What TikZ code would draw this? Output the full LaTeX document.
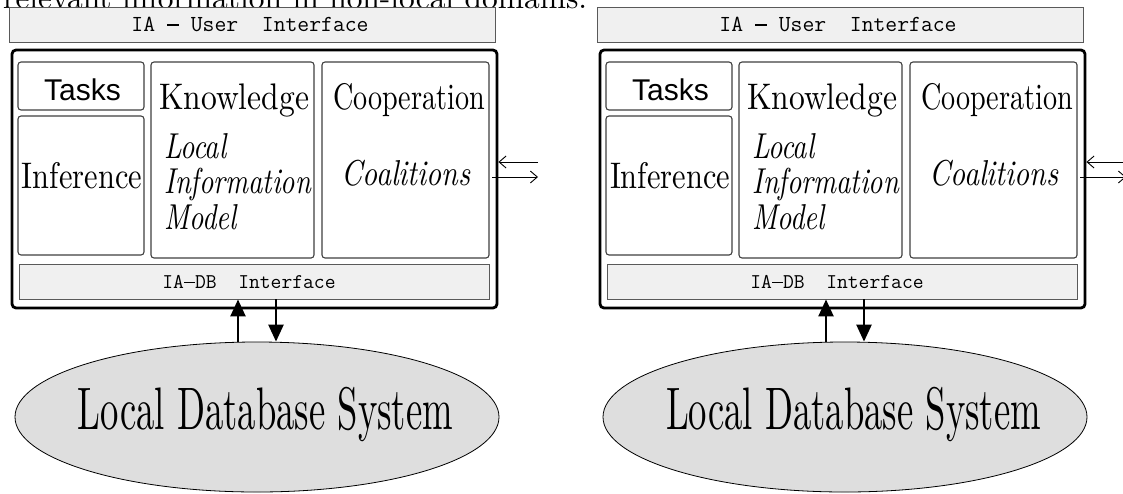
\documentclass[tikz,border=0pt]{standalone}
\usepackage{fontspec}
\usepackage{graphicx}
\newfontfamily\sansA{Liberation Sans}
\newfontfamily\lmten{lmroman10-regular}[Extension=.otf, ItalicFont=lmroman10-italic]
\usetikzlibrary{shapes.geometric,arrows.meta}
\newcommand\fitw[3]{\resizebox{#1}{\height}{\lmten\fontsize{#2}{#2}\selectfont #3}}
\newcommand\itc[2][0.78]{\scalebox{#1}[1]{\lmten\fontsize{36}{36}\selectfont\itshape #2}}
\newcommand\mdash{\makebox[0.525em][c]{\rule[0.24em]{0.5em}{0.05em}}}
\tikzset{
  bar/.style={draw=black!65, fill=black!6, line width=0.9pt, inner sep=0pt},
  cell/.style={draw=black!75, line width=1.1pt, rounded corners=3pt, inner sep=0pt},
  frame/.style={draw=black, line width=2.8pt, rounded corners=4pt, inner sep=0pt},
  dbell/.style={ellipse, draw=black, line width=0.8pt, fill=black!13, inner sep=0pt},
  lbl/.style={inner sep=0pt, anchor=base},
  ilbl/.style={inner sep=0pt, anchor=base west},
  bigarrow/.style={line width=2.5pt, -{Triangle[width=15pt,length=17pt]}},
  sidearrow/.style={line width=0.9pt, -{Straight Barb[length=7pt,width=12pt]}},
}
\newcommand\iablock{%
  \node[bar, minimum width=486pt, minimum height=35pt] (ui) at (252,24.5) {};
  \node[inner sep=0pt] (uit) at (250,24) {\fontsize{23}{23}\selectfont\ttfamily IA \mdash{} User\ \ Interface};
  \node[frame, minimum width=485pt, minimum height=258pt] (main) at (254.5,179) {};
  \node[cell, minimum width=126pt, minimum height=48pt] (tasks) at (81,86) {};
  \node[cell, minimum width=126pt, minimum height=139pt] (infer) at (81,185.5) {};
  \node[cell, minimum width=163pt, minimum height=196pt] (know) at (232.5,160) {};
  \node[cell, minimum width=167pt, minimum height=196pt] (coop) at (405.5,160) {};
  \node[bar, minimum width=470pt, minimum height=35pt] (dbbar) at (254,281.5) {};
  \node[inner sep=0pt] (dbbart) at (249,282) {\fontsize{21}{21}\selectfont\ttfamily IA\mdash DB\ \ Interface};
  \node[dbell, minimum width=484pt, minimum height=150pt] (db) at (257,417) {};
  \node[inner sep=0pt] (tasksl) at (82.5,89.5) {\sansA\fontsize{30}{30}\selectfont Tasks};
  \node[lbl] (knowl) at (234,109) {\fitw{150pt}{37}{Knowledge}};
  \node[lbl] (coopl) at (409,109) {\fitw{152pt}{37}{Cooperation}};
  \node[lbl] (infl) at (82,188) {\fitw{120pt}{37}{Inference}};
  \node[ilbl] (lim1) at (164,158) {\itc{Local}};
  \node[ilbl] (lim2) at (164,193) {\itc{Information}};
  \node[ilbl] (lim3) at (164,229) {\itc{Model}};
  \node[lbl] (coal) at (406,185) {\itc[0.82]{Coalitions}};
  \node[lbl] (dbl) at (265.5,429) {\fitw{375pt}{60}{Local Database System}};
  \draw[bigarrow] ([xshift=-19pt]db.north) -- ([xshift=-19pt]db.north |- dbbar.south);
  \draw[bigarrow] ([xshift=19pt]db.north |- dbbar.south) -- ([xshift=19pt]db.north);
  \coordinate (inA) at (538,162);
  \coordinate (outA) at (538,177);
  \draw[sidearrow] (inA) -- (inA -| main.east);
  \draw[sidearrow] ([xshift=-6pt]main.east |- outA) -- (outA);
}
\begin{document}
\begin{tikzpicture}[x=1pt,y=-1pt]
  \useasboundingbox (0,0) rectangle (1123,493);
  \clip (0,0) rectangle (1123,493);
  \fill[white] (0,0) rectangle (1123,493);
  \node[anchor=base west, inner sep=0pt] (toptext) at (3,8.5) {\fitw{584pt}{31}{relevant information in non-local domains.}};
  \begin{scope}[name prefix=L-]
    \iablock
  \end{scope}
  \begin{scope}[xshift=588pt, name prefix=R-]
    \iablock
  \end{scope}
\end{tikzpicture}
\end{document}
